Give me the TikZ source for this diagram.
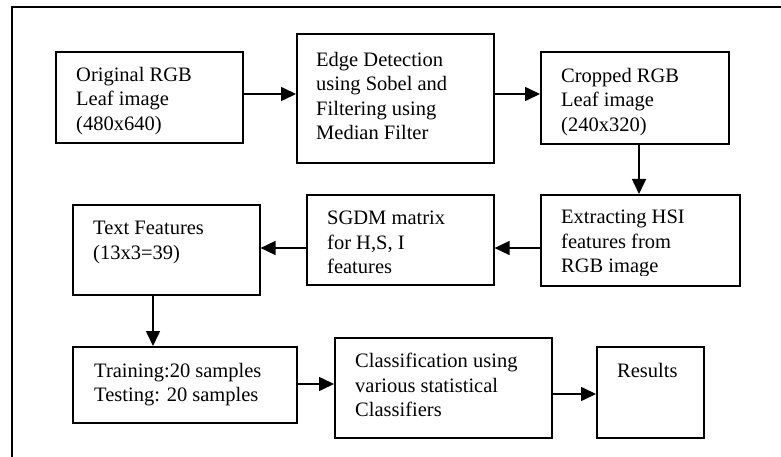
\documentclass[tikz,border=0pt]{standalone}
\usepackage{fontspec}
\setmainfont{Liberation Serif}
\usetikzlibrary{arrows.meta}
\tikzset{
  box/.style={draw=black, line width=1.6pt, rectangle, anchor=north west, inner sep=0pt},
  txt/.style={anchor=north west, inner sep=0pt, align=left,
              font=\fontsize{20.5}{24.5}\selectfont},
  arr/.style={draw=black, line width=1.6pt, -{Triangle[length=15pt,width=14pt]}},
  frame/.style={draw=black, line width=1.4pt}
}
\begin{document}
\begin{tikzpicture}[x=1pt, y=-1pt]
  \useasboundingbox (0,0) rectangle (781,457);
  % open frame: top edge and left edge only
  \draw[frame] (781,7) -| (12,457);

  % boxes
  \node[box, minimum width=187pt, minimum height=91pt]  (b1) at (55,51)   {};
  \node[box, minimum width=197pt, minimum height=129pt] (b2) at (296,33)  {};
  \node[box, minimum width=188pt, minimum height=92pt]  (b3) at (540,51)  {};
  \node[box, minimum width=199pt, minimum height=91pt]  (b4) at (540,194) {};
  \node[box, minimum width=187pt, minimum height=90pt]  (b5) at (306,194) {};
  \node[box, minimum width=187pt, minimum height=90pt]  (b6) at (72,204)  {};
  \node[box, minimum width=224pt, minimum height=76pt]  (b7) at (72,346)  {};
  \node[box, minimum width=217pt, minimum height=100pt] (b8) at (334,337) {};
  \node[box, minimum width=107pt, minimum height=91pt]  (b9) at (596,346) {};

  % box texts
  \node[txt] (t1) at (76,67)  {Original RGB\\Leaf image\\(480x640)};
  \node[txt] (t2) at (316,52) {Edge Detection\\using Sobel and\\Filtering using\\Median Filter};
  \node[txt] (t3) at (561,68) {Cropped RGB\\Leaf image\\(240x320)};
  \begin{scope}
    \clip (540,194) rectangle (739,275);
    \node[txt] (t4) at (561,210) {Extracting HSI\\features from\\RGB image};
  \end{scope}
  \node[txt] (t5) at (327,211) {SGDM matrix\\for H,S, I\\features};
  \node[txt] (t6) at (93,221)  {Text Features\\(13x3=39)};
  \node[txt] (t7) at (94,363)  {Training:20 samples\\Testing: 20 samples};
  \node[txt] (t8) at (355,353) {Classification using\\various statistical\\Classifiers};
  \node[txt] (t9) at (617,363) {Results};

  % connectors
  \draw[arr] (b1.east |- 0,94)  -- (b2.west |- 0,94);
  \draw[arr] (b2.east |- 0,94)  -- (b3.west |- 0,94);
  \draw[arr] (b3.south -| 639,0) -- (b4.north -| 639,0);
  \draw[arr] (b4.west |- 0,248) -- (b5.east |- 0,248);
  \draw[arr] (b5.west |- 0,248) -- (b6.east |- 0,248);
  \draw[arr] (b6.south -| 153,0) -- (b7.north -| 153,0);
  \draw[arr] (b7.east |- 0,384) -- (b8.west |- 0,384);
  \draw[arr] (b8.east |- 0,394) -- (b9.west |- 0,394);
\end{tikzpicture}
\end{document}
